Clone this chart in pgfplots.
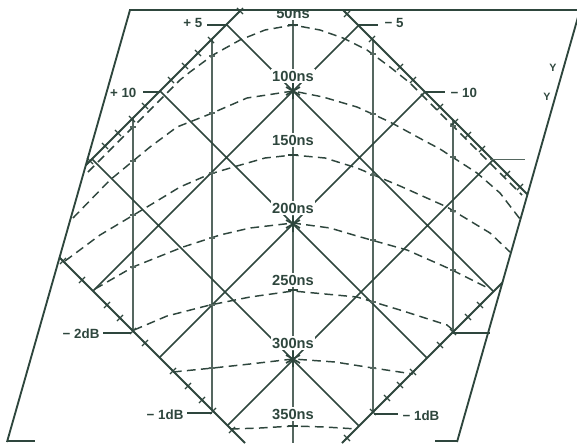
\documentclass[border=0pt]{standalone}
\usepackage{fontspec}
\setmainfont{Liberation Sans}
\usepackage{pgfplots}
\pgfplotsset{compat=1.18}

\definecolor{ink}{RGB}{46,70,61}
\definecolor{inkl}{RGB}{85,103,96}

\tikzset{
  ln/.style={ink, line width=1.15pt},
  vl/.style={inkl, line width=1pt},
  dsh/.style={ink, line width=1.1pt, dash pattern=on 6.5pt off 4pt},
  lbl/.style={font=\bfseries\fontsize{10}{12}\selectfont, text=ink, inner sep=1pt},
  clbl/.style={font=\bfseries\fontsize{11}{13}\selectfont, text=ink, inner sep=1pt, fill=white},
}

\begin{document}
\begin{tikzpicture}
\useasboundingbox (0,0) rectangle (432.75pt,332.25pt);
\begin{axis}[
  at={(0,0)}, anchor=south west,
  width=432.75pt, height=332.25pt, scale only axis,
  xmin=0, xmax=577, ymin=0, ymax=443, y dir=reverse,
  hide axis, clip=false,
  unbounded coords=jump,
]

% --- gestrichelte Kurven (Laufzeit) ---
% 50ns, mit den Parallelen zum Rand
\addplot[dsh] coordinates {
  (88,172) (180,80) (190,72) (213,55) (240,40) (265,30) (293,25)
  (320,30) (343,38) (367,50) (390,67) (410,83) (522,195)};
% 100ns
\addplot[dsh] coordinates {
  (73,218) (110,180) (150,147) (177,127) (210,114) (247,98) (293,91)
  (323,97) (357,107) (390,122) (423,140) (440,149) (477,173) (500,193) (520,219)};
% 150ns
\addplot[dsh] coordinates {
  (65,261) (100,235) (147,207) (180,187) (210,174) (237,166) (265,158) (293,155)
  (325,158) (357,168) (400,186) (447,207) (490,233) (510,252)};
% 200ns
\addplot[dsh] coordinates {
  (95,289) (133,267) (183,247) (220,235) (250,228) (293,223)
  (330,228) (357,236) (407,250) (450,269) (490,289)};
% 250ns
\addplot[dsh] coordinates {
  (134,330) (167,316) (210,305) (250,297) (293,291)
  (357,297) (400,310) (447,325) (453,330)};
% 300ns
\addplot[dsh] coordinates {
  (173,372) (213,368) (250,364) (293,359) (335,362) (373,368) (413,374)};
% 350ns
\addplot[dsh] coordinates {
  (231,429) (260,428) (293,426) (325,427) (357,429)};

% --- Senkrechte ---
\addplot[vl] coordinates {
  (133,118) (133,331) (nan,nan)
  (212,39) (212,410) (nan,nan)
  (373,40) (373,412) (nan,nan)
  (453,120) (453,332) (nan,nan)
  (293,10) (293,443)};

% --- Diagonalen ---
\addplot[ln] coordinates {
  (226.5,24.5) (493.5,291.5) (nan,nan)
  (358.5,25.5) (93,291) (nan,nan)
  (160,91) (427,358) (nan,nan)
  (425,92) (159.5,357.5) (nan,nan)
  (92,159) (359,426) (nan,nan)
  (493,160) (227.5,425.5)};

% --- Rand der Raute ---
\addplot[ln, line width=1.35pt] coordinates {
  (85.5,165.5) (241,10) (nan,nan)
  (343,10) (527.7,194.7) (nan,nan)
  (59.3,257.3) (245,443) (nan,nan)
  (502.6,282.4) (342,443)};

% Striche auf dem Rand
\addplot[only marks, mark=x, mark size=3.2pt, mark options={ink, line width=0.9pt}] coordinates {
  (240,11) (211,40) (198,53) (185,66) (171,80) (145,106) (132,119) (118,133) (105,146) (90,161)
  (347,14) (372,39) (400,67) (413,80) (440,107) (455,122) (468,135) (482,149) (507,174) (520,187)
  (63,261) (82,280) (107,305) (120,318) (133,331) (145,343) (173,371) (188,386) (202,400) (213,411) (232,430)
  (480,305) (468,317) (453,332) (440,345) (413,372) (400,385) (387,398) (373,412) (347,438)};

% Striche auf den Senkrechten
\addplot[only marks, mark=-, mark size=2.2pt, mark options={inkl, line width=0.8pt}] coordinates {
  (212,56) (212,113) (212,173) (212,238) (212,305) (212,368)
  (133,127) (133,161) (133,215) (133,267)
  (373,54) (373,114) (373,175) (373,240) (373,302) (373,368)
  (453,126) (453,157) (453,211) (453,270)};
\addplot[only marks, mark=-, mark size=3.5pt, mark options={ink, line width=0.9pt}] coordinates {
  (293,25) (293,155) (293,290) (293,426)};

% Hinweisstriche
\addplot[ln, line width=1pt] coordinates {
  (207,25) (227,25) (nan,nan)
  (143,92) (160,92) (nan,nan)
  (358,25) (378,25) (nan,nan)
  (425,92) (445,92) (nan,nan)
  (103,333) (131,333) (nan,nan)
  (187,413) (212,413) (nan,nan)
  (374,414) (398,414) (nan,nan)
  (453,333) (490,333)};
\addplot[inkl, line width=0.7pt] coordinates {(490,159) (525,159)};

% --- Rahmen ---
\node[clbl] at (axis cs:293,13) {50ns};
\fill[white] (axis cs:262,0) rectangle (axis cs:324,10);
\addplot[ln, line width=1.4pt] coordinates {(7,442) (130,10) (580,10) (457,442)};
\addplot[ln, line width=1.3pt] coordinates {(7,441) (35,441) (nan,nan) (435,441) (457,441)};

% --- Beschriftung ---
\node[clbl] at (axis cs:293,76) {100ns};
\node[clbl] at (axis cs:293,140) {150ns};
\node[clbl] at (axis cs:293,208) {200ns};
\node[clbl] at (axis cs:293,280) {250ns};
\node[clbl] at (axis cs:293,343) {300ns};
\node[clbl] at (axis cs:293,414) {350ns};

\node[lbl, anchor=east] at (axis cs:204,23) {+ 5};
\node[lbl, anchor=east] at (axis cs:138,93) {+ 10};
\node[lbl, anchor=west] at (axis cs:383,23) {− 5};
\node[lbl, anchor=west] at (axis cs:449,93) {− 10};
\node[lbl, anchor=east] at (axis cs:101,334) {− 2dB};
\node[lbl, anchor=east] at (axis cs:185,415) {− 1dB};
\node[lbl, anchor=west] at (axis cs:401,416) {− 1dB};
\node[lbl, font=\bfseries\fontsize{8}{9}\selectfont] at (axis cs:553,68) {Y};
\node[lbl, font=\bfseries\fontsize{8}{9}\selectfont] at (axis cs:547,97) {Y};

% Sterne
\addplot[only marks, mark=asterisk, mark size=6pt, mark options={ink, line width=1.3pt}] coordinates {
  (293,91) (293,224) (293,359)};

\end{axis}
\end{tikzpicture}
\end{document}
